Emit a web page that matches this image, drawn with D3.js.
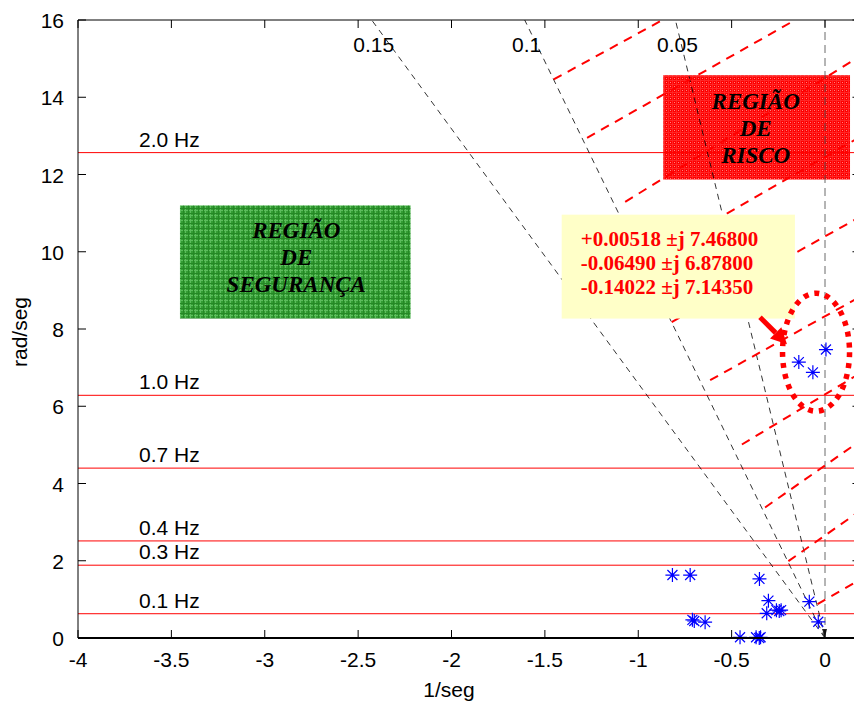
<!DOCTYPE html>
<html><head><meta charset="utf-8">
<script src="https://cdn.jsdelivr.net/npm/d3@7"></script>
<style>body{margin:0;background:#fff} svg{display:block}</style>
</head><body><svg id="c" width="854" height="704"></svg>
<script>
// ---- data ----
const xTicks = [-4, -3.5, -3, -2.5, -2, -1.5, -1, -0.5, 0];
const xTickLabels = ["-4", "-3.5", "-3", "-2.5", "-2", "-1.5", "-1", "-0.5", "0"];
const yTicks = [0, 2, 4, 6, 8, 10, 12, 14, 16];
const yTickLabels = ["0", "2", "4", "6", "8", "10", "12", "14", "16"];
const freqHz = [2.0, 1.0, 0.7, 0.4, 0.3, 0.1];
const freqLabels = ["2.0 Hz", "1.0 Hz", "0.7 Hz", "0.4 Hz", "0.3 Hz", "0.1 Hz"];
const dampRatios = [0.15, 0.1, 0.05];
const dampLabels = ["0.15", "0.1", "0.05"];
// poles (real part, imaginary part)
const poleReal = [-0.817, -0.722, -0.351, -0.303, -0.312, -0.26, -0.245, -0.235, -0.084, -0.036, -0.71, -0.70, -0.642, -0.455, -0.369, -0.352, -0.345];
const poleImag = [1.63, 1.63, 1.53, 0.966, 0.64, 0.72, 0.70, 0.72, 0.94, 0.42, 0.47, 0.44, 0.41, 0.02, 0.02, 0.0, 0.02];
const criticalReal = [0.00518, -0.06490, -0.14022];
const criticalImag = [7.46800, 6.87800, 7.14350];
const annotationLines = ["+0.00518 \u00b1j 7.46800", "-0.06490 \u00b1j 6.87800", "-0.14022 \u00b1j 7.14350"];
// risk hatching lines: start (re, im) -> end (re, im)
const riskStartRe = [-1.453, -1.274, -1.07, -0.526, -0.821, -0.615, -0.445, -0.321, -0.196, -0.04];
const riskStartIm = [14.46, 12.95, 11.29, 10.99, 8.18, 6.675, 5.01, 3.38, 1.99, 0.88];
const riskEndRe = [-0.87, -0.16, 0.19, 0.19, 0.19, 0.19, 0.19, 0.19, 0.19, 0.19];
const riskEndIm = [16.0, 16.0, 15.07, 12.98, 10.91, 8.84, 6.86, 5.11, 3.30, 1.52];
const safeLabel = ["REGIÃO", "DE", "SEGURANÇA"];
const riskLabel = ["REGIÃO", "DE", "RISCO"];

// ---- layout ----
const svg = d3.select("#c");
const x = d3.scaleLinear().domain([-4, 0.19]).range([78, 78 + 186.75 * 4.19]);
const y = d3.scaleLinear().domain([0, 16]).range([638, 20]);
const X0 = x(-4), X1 = x(0.19), Y0 = y(0), Y1 = y(16);
const tf = "Liberation Sans, Arial, Helvetica, sans-serif";
const sf = "Liberation Serif, Times New Roman, serif";

const defs = svg.append("defs");
defs.append("clipPath").attr("id", "clip").append("rect")
  .attr("x", X0).attr("y", Y1).attr("width", X1 - X0).attr("height", Y0 - Y1);

// patterns
const pr = defs.append("pattern").attr("id", "redpat").attr("patternUnits", "userSpaceOnUse")
  .attr("width", 4).attr("height", 4);
pr.append("rect").attr("width", 4).attr("height", 4).attr("fill", "#ff0000");
pr.append("rect").attr("x", 0).attr("y", 0).attr("width", 4).attr("height", 1).attr("fill", "#ff2626");
pr.append("rect").attr("x", 0).attr("y", 0).attr("width", 1).attr("height", 4).attr("fill", "#ff2626");
pr.append("rect").attr("x", 2).attr("y", 2).attr("width", 1).attr("height", 1).attr("fill", "#ff8080");
const pg = defs.append("pattern").attr("id", "greenpat").attr("patternUnits", "userSpaceOnUse")
  .attr("width", 5).attr("height", 5);
pg.append("rect").attr("width", 5).attr("height", 5).attr("fill", "#349d34");
pg.append("rect").attr("x", 0).attr("y", 0).attr("width", 5).attr("height", 1).attr("fill", "#5cbc5c");
pg.append("rect").attr("x", 0).attr("y", 0).attr("width", 1).attr("height", 5).attr("fill", "#5cbc5c");
pg.append("rect").attr("x", 3).attr("y", 0).attr("width", 1).attr("height", 5).attr("fill", "#268826");
pg.append("rect").attr("x", 0).attr("y", 3).attr("width", 5).attr("height", 1).attr("fill", "#268826");

const plot = svg.append("g").attr("clip-path", "url(#clip)");

// risk box (drawn under the lines, which show through it)
const rb = { x0: -0.866, x1: 0.134, y0: 14.57, y1: 11.87 };
plot.append("rect").attr("x", x(rb.x0)).attr("y", y(rb.y0))
  .attr("width", x(rb.x1) - x(rb.x0)).attr("height", y(rb.y1) - y(rb.y0))
  .attr("fill", "url(#redpat)");

// frequency lines
plot.selectAll(".fl").data(freqHz).join("line")
  .attr("x1", X0).attr("x2", X1)
  .attr("y1", d => y(2 * Math.PI * d)).attr("y2", d => y(2 * Math.PI * d))
  .attr("stroke", "#ff0000").attr("stroke-width", 1);
svg.selectAll(".flab").data(freqHz).join("text")
  .attr("x", x(-3.673)).attr("y", d => y(2 * Math.PI * d) - 6)
  .attr("font-family", tf).attr("font-size", 21)
  .text((d, i) => freqLabels[i]);

// damping lines
const wTop = 16;
plot.selectAll(".dl").data(dampRatios).join("line")
  .attr("x1", x(0)).attr("y1", y(0))
  .attr("x2", d => x(-wTop * d / Math.sqrt(1 - d * d))).attr("y2", y(wTop))
  .attr("stroke", "#000").attr("stroke-width", 0.8).attr("stroke-dasharray", "6,5");
plot.append("line").attr("x1", x(0)).attr("x2", x(0)).attr("y1", y(0)).attr("y2", y(16))
  .attr("stroke", "#444").attr("stroke-width", 0.8).attr("stroke-dasharray", "8,5");
svg.append("path").attr("d", `M${x(0) - 3},${y(0) - 9}L${x(0) + 2},${y(0) - 9}L${x(0)},${y(0) - 1}Z`)
  .attr("fill", "#222");
svg.selectAll(".dlab").data(dampRatios).join("text")
  .attr("x", d => x(-wTop * d / Math.sqrt(1 - d * d)) + 2).attr("y", y(wTop) + 32)
  .attr("text-anchor", "middle")
  .attr("font-family", tf).attr("font-size", 21)
  .text((d, i) => dampLabels[i]);

// risk hatching
plot.selectAll(".rl").data(riskStartRe).join("line")
  .attr("x1", (d, i) => x(riskStartRe[i])).attr("y1", (d, i) => y(riskStartIm[i]))
  .attr("x2", (d, i) => x(riskEndRe[i])).attr("y2", (d, i) => y(riskEndIm[i]))
  .attr("stroke", "#ff0000").attr("stroke-width", 2).attr("stroke-dasharray", "9,7");

svg.selectAll(".rlab").data(riskLabel).join("text")
  .attr("x", (x(rb.x0) + x(rb.x1)) / 2 - 1).attr("y", (d, i) => y(rb.y0) + 34 + i * 27)
  .attr("text-anchor", "middle").attr("font-family", sf)
  .attr("font-weight", "bold").attr("font-style", "italic").attr("font-size", 23)
  .text(d => d);

// safe box
const gb = { x0: -3.454, x1: -2.219, y0: 11.20, y1: 8.27 };
svg.append("rect").attr("x", x(gb.x0)).attr("y", y(gb.y0))
  .attr("width", x(gb.x1) - x(gb.x0)).attr("height", y(gb.y1) - y(gb.y0))
  .attr("fill", "url(#greenpat)");
svg.selectAll(".glab").data(safeLabel).join("text")
  .attr("x", (x(gb.x0) + x(gb.x1)) / 2 + 1).attr("y", (d, i) => y(gb.y0) + 33 + i * 27)
  .attr("text-anchor", "middle").attr("font-family", sf)
  .attr("font-weight", "bold").attr("font-style", "italic").attr("font-size", 23)
  .text(d => d);

// annotation box
const yb = { x0: -1.41, x1: -0.161, y0: 10.96, y1: 8.27 };
svg.append("rect").attr("x", x(yb.x0)).attr("y", y(yb.y0))
  .attr("width", x(yb.x1) - x(yb.x0)).attr("height", y(yb.y1) - y(yb.y0))
  .attr("fill", "#ffffc8");
svg.selectAll(".alab").data(annotationLines).join("text")
  .attr("x", x(yb.x0) + 19).attr("y", (d, i) => y(yb.y0) + 31 + i * 24)
  .attr("font-family", sf)
  .attr("font-weight", "bold").attr("font-size", 21).attr("fill", "#ff0000")
  .text(d => d);

// arrow
const ax0 = x(-0.348), ay0 = y(8.305), ax1 = x(-0.2035), ay1 = y(7.607);
const ang = Math.atan2(ay1 - ay0, ax1 - ax0);
const hl = 16, hw = 8;
const bx = ax1 - hl * Math.cos(ang), by = ay1 - hl * Math.sin(ang);
svg.append("line").attr("x1", ax0).attr("y1", ay0).attr("x2", bx).attr("y2", by)
  .attr("stroke", "#ff0000").attr("stroke-width", 5);
svg.append("path").attr("d",
  `M${ax1},${ay1}L${bx + hw * Math.sin(ang)},${by - hw * Math.cos(ang)}L${bx - hw * Math.sin(ang)},${by + hw * Math.cos(ang)}Z`)
  .attr("fill", "#ff0000");

// dotted ellipse around critical poles
svg.append("ellipse").attr("cx", x(-0.048)).attr("cy", y(7.4)).attr("rx", 33.5).attr("ry", 59)
  .attr("fill", "none").attr("stroke", "#ff0000").attr("stroke-width", 5.5).attr("stroke-dasharray", "5,6");

// stars
function star(g, cx, cy) {
  const a = 7, b = 5;
  g.append("path").attr("d",
    `M${cx - a},${cy}H${cx + a}M${cx},${cy - a}V${cy + a}M${cx - b},${cy - b}L${cx + b},${cy + b}M${cx - b},${cy + b}L${cx + b},${cy - b}`)
    .attr("stroke", "#0000ff").attr("stroke-width", 1.2).attr("fill", "none");
}
const sg = svg.append("g");
poleReal.forEach((d, i) => star(sg, x(d), y(poleImag[i])));
criticalReal.forEach((d, i) => star(sg, x(d), y(criticalImag[i])));

// axes box
const ag = svg.append("g").attr("stroke", "#000").attr("fill", "none");
ag.append("line").attr("x1", X0).attr("x2", X1).attr("y1", Y1).attr("y2", Y1).attr("stroke-width", 1);
ag.append("line").attr("x1", X0).attr("x2", X0).attr("y1", Y1).attr("y2", Y0).attr("stroke-width", 1);
ag.append("line").attr("x1", X1).attr("x2", X1).attr("y1", Y1).attr("y2", Y0).attr("stroke-width", 1);
ag.append("line").attr("x1", X0).attr("x2", X1).attr("y1", Y0).attr("y2", Y0).attr("stroke-width", 2);
const tl = 8;
xTicks.forEach(t => {
  ag.append("line").attr("x1", x(t)).attr("x2", x(t)).attr("y1", Y0).attr("y2", Y0 - tl);
  ag.append("line").attr("x1", x(t)).attr("x2", x(t)).attr("y1", Y1).attr("y2", Y1 + tl);
});
yTicks.forEach(t => {
  ag.append("line").attr("x1", X0).attr("x2", X0 + tl).attr("y1", y(t)).attr("y2", y(t));
  ag.append("line").attr("x1", X1).attr("x2", X1 - tl).attr("y1", y(t)).attr("y2", y(t));
});
svg.selectAll(".xt").data(xTicks).join("text")
  .attr("x", d => x(d)).attr("y", Y0 + 29).attr("text-anchor", "middle")
  .attr("font-family", tf).attr("font-size", 21).text((d, i) => xTickLabels[i]);
svg.selectAll(".yt").data(yTicks).join("text")
  .attr("x", X0 - 14).attr("y", d => y(d) + 8).attr("text-anchor", "end")
  .attr("font-family", tf).attr("font-size", 21).text((d, i) => yTickLabels[i]);
svg.append("text").attr("x", 449).attr("y", 697).attr("text-anchor", "middle")
  .attr("font-family", tf).attr("font-size", 21).text("1/seg");
svg.append("text").attr("transform", `translate(27,${(Y0 + Y1) / 2 + 3}) rotate(-90)`)
  .attr("text-anchor", "middle").attr("font-family", tf).attr("font-size", 21).text("rad/seg");
</script>
</body></html>
